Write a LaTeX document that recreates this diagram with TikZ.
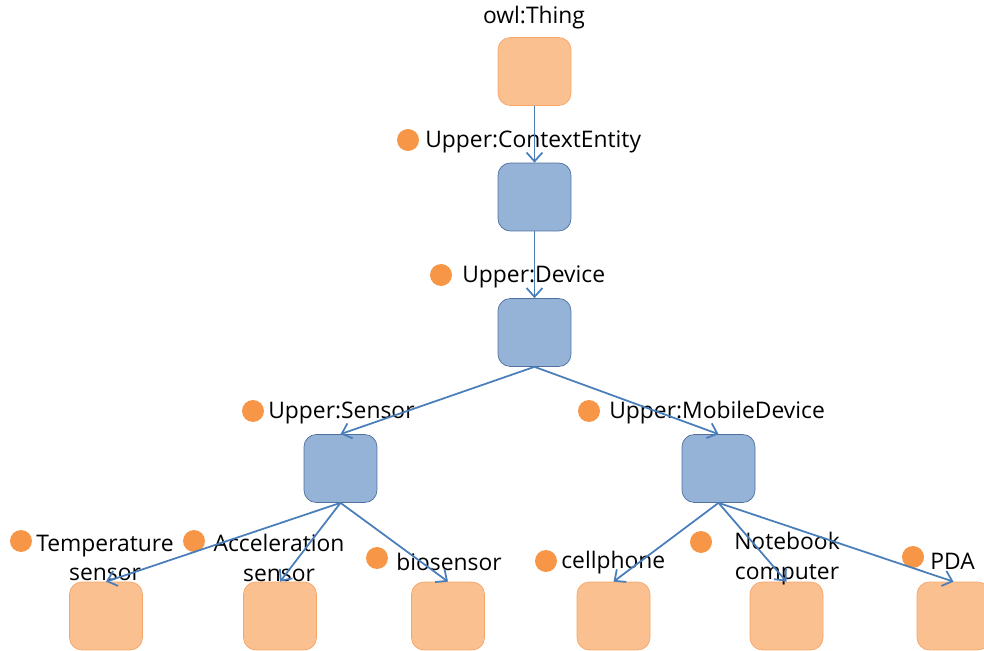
\documentclass[tikz,border=0pt]{standalone}
\usepackage{fontspec}
\setmainfont{Open Sans}
\usepackage{tikz}
\usetikzlibrary{arrows.meta}
\definecolor{leaffill}{HTML}{FAC090}
\definecolor{leafline}{HTML}{F5A66A}
\definecolor{classfill}{HTML}{95B3D7}
\definecolor{classline}{HTML}{4F6F9F}
\definecolor{dotfill}{HTML}{F79646}
\definecolor{arrowcol}{HTML}{4A7EBB}

\begin{document}
\begin{tikzpicture}[x=0.02cm, y=-0.02cm,
  leaf/.style={draw=leafline, fill=leaffill, rounded corners=7pt, minimum width=1.46cm, minimum height=1.36cm, inner sep=0pt},
  cls/.style={leaf, draw=classline, fill=classfill},
  dot/.style={circle, fill=dotfill, inner sep=0pt, minimum size=0.44cm},
  lbl/.style={font=\fontsize{13}{17}\selectfont, inner sep=0pt, align=center},
  isa/.style={draw=arrowcol, line width=1pt, -{Straight Barb[length=5pt,width=9pt]}}]
 \useasboundingbox (0,0) rectangle (984,651);
 \clip (0,0) rectangle (984,651);
 % class boxes
 \node[leaf] (thing) at (534.5,71.5) {};
 \node[cls] (ctx) at (534.5,197) {};
 \node[cls] (dev) at (534.5,332.5) {};
 \node[cls] (sen) at (340.5,468.5) {};
 \node[cls] (mob) at (718.5,468.5) {};
 \node[leaf] (temp) at (106,616) {};
 \node[leaf] (acc) at (280,616) {};
 \node[leaf] (bio) at (448,616) {};
 \node[leaf] (cell) at (613.5,616) {};
 \node[leaf] (note) at (786.5,616) {};
 \node[leaf] (pda) at (953.5,616) {};
 % labels
 \node[lbl] (thingtxt) at (534,18) {owl:Thing};
 \node[dot] (ctxdot) at (408,140) {};
 \node[lbl, anchor=west] (ctxtxt) at (425,142) {Upper:ContextEntity};
 \node[dot] (devdot) at (441,275) {};
 \node[lbl, anchor=west] (devtxt) at (462,277) {Upper:Device};
 \node[dot] (sendot) at (253,411) {};
 \node[lbl, anchor=west] (sentxt) at (268,413) {Upper:Sensor};
 \node[dot] (mobdot) at (589,411) {};
 \node[lbl, anchor=west] (mobtxt) at (609,413) {Upper:MobileDevice};
 \node[dot] (tempdot) at (21,541) {};
 \node[lbl] (temptxt) at (105,558) {Temperature\\sensor};
 \node[dot] (accdot) at (194,541) {};
 \node[lbl] (acctxt) at (279,558) {Acceleration\\sensor};
 \node[dot] (biodot) at (377,558) {};
 \node[lbl, anchor=west] (biotxt) at (396,562) {biosensor};
 \node[dot] (celldot) at (546,561) {};
 \node[lbl, anchor=west] (celltxt) at (561,563) {cellphone};
 \node[dot] (notedot) at (701,542) {};
 \node[lbl] (notetxt) at (787,559) {Notebook\\computer};
 \node[dot] (pdadot) at (913,557) {};
 \node[lbl, anchor=west] (pdatxt) at (930,561) {PDA};
 % subclass arrows
 \draw[isa] (thing) -- (ctx);
 \draw[isa] (ctx) -- (dev);
 \draw[isa] (dev.south) -- (sen.north);
 \draw[isa] (dev.south) -- (mob.north);
 \foreach \c in {temp,acc,bio}
  \draw[isa] (sen.south) -- (\c.north);
 \foreach \c in {cell,note,pda}
  \draw[isa] (mob.south) -- (\c.north);
\end{tikzpicture}
\end{document}
